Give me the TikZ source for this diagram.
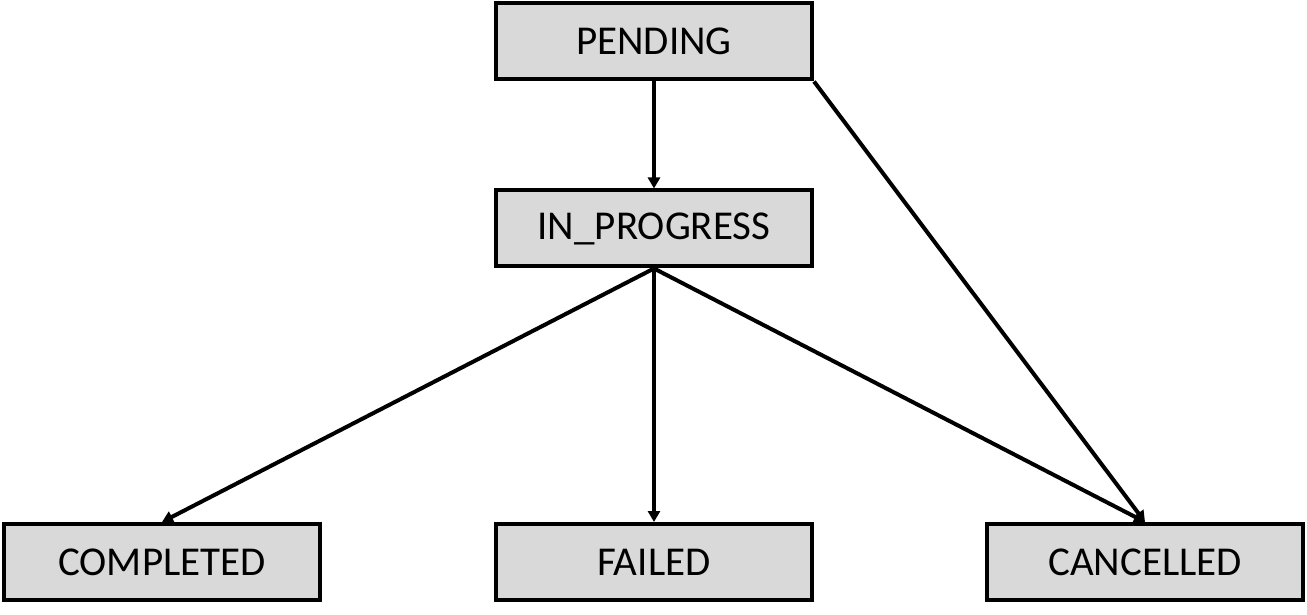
\documentclass[tikz,border=0pt]{standalone}
\usepackage{fontspec}
\setmainfont{Carlito}
\usetikzlibrary{arrows.meta}
\definecolor{boxgray}{HTML}{D9D9D9}
\begin{document}
\begin{tikzpicture}[x=1pt,y=1pt,
  state/.style={draw=black, fill=boxgray, line width=4pt, minimum width=316pt, minimum height=76pt, inner sep=0pt, font=\fontsize{41}{48}\selectfont},
  conn/.style={line width=4pt, -{Triangle[length=11pt,width=12pt]}}]
\useasboundingbox (0,0) rectangle (1307,614);
\node[state] (pending) at (654,572.5) {PENDING};
\node[state] (inprog) at (654,385.5) {IN\_PROGRESS};
\node[state] (completed) at (162,52) {COMPLETED};
\node[state] (failed) at (654,52) {FAILED};
\node[state] (cancelled) at (1145,52) {CANCELLED};
\draw[conn] (pending.south) -- (inprog.north);
\draw[conn] (pending.south east) -- (cancelled.north);
\draw[conn] (inprog.south) -- (completed.north);
\draw[conn] (inprog.south) -- (failed.north);
\draw[conn] (inprog.south) -- (cancelled.north);
\end{tikzpicture}
\end{document}
